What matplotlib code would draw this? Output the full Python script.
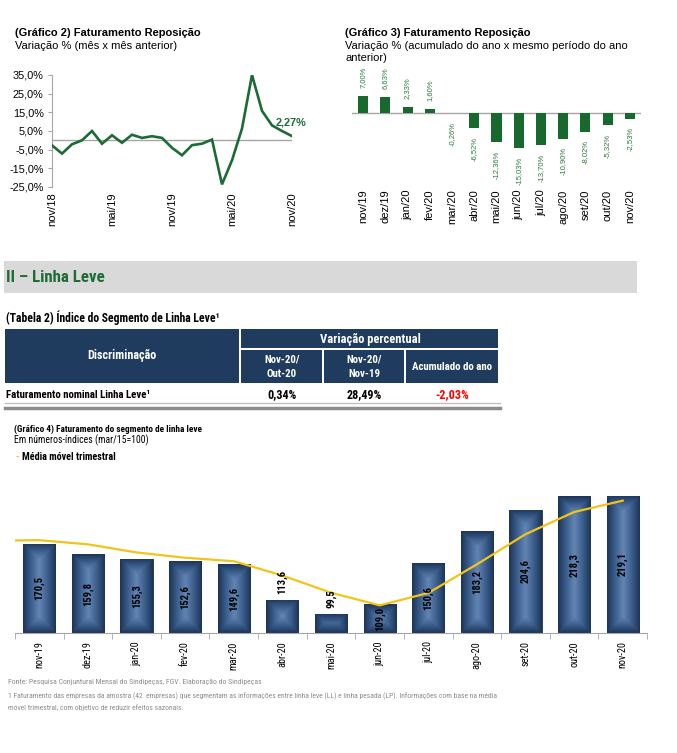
import numpy as np
import matplotlib
matplotlib.use('Agg')
import matplotlib.pyplot as plt
from matplotlib import font_manager
from matplotlib.patches import Rectangle
from matplotlib.colors import LinearSegmentedColormap

plt.rcParams['font.family'] = ['Liberation Sans', 'DejaVu Sans']

# a condensed face is used for the small notes if one is installed,
# otherwise plain Liberation Sans at a smaller size
_names = {f.name for f in font_manager.fontManager.ttflist}
NARROW = ['Liberation Sans', 'DejaVu Sans']
NSCALE = 1.0
for cand in ['Liberation Sans Narrow', 'Roboto Condensed', 'Open Sans Condensed']:
    if cand in _names:
        NARROW = [cand, 'Liberation Sans', 'DejaVu Sans']
        NSCALE = 1 / 0.82
        break


def ns(size):
    return size * NSCALE


# ---- data ----
# Grafico 2: variacao mes x mes anterior, nov/18 .. nov/20
rep_mm = [-2.7, -7.1, -2.1, 0.0, 5.0, -1.8, 2.7, -1.3, 3.0, 1.3, 2.2, 1.3,
          -4.0, -8.0, -2.6, -1.8, 0.4, -23.6, -10.7, 6.3, 35.0, 15.8, 8.0, 5.0, 2.27]
rep_mm_ticks = ['nov/18', 'mai/19', 'nov/19', 'mai/20', 'nov/20']

# Grafico 3: acumulado do ano
months3 = ['nov/19', 'dez/19', 'jan/20', 'fev/20', 'mar/20', 'abr/20', 'mai/20',
           'jun/20', 'jul/20', 'ago/20', 'set/20', 'out/20', 'nov/20']
rep_acum = [7.00, 6.63, 2.33, 1.60, -0.26, -6.52, -12.36, -15.03, -13.70,
            -10.90, -8.02, -5.32, -2.53]

# Tabela 2
tab_cols = ['Nov-20/\nOut-20', 'Nov-20/\nNov-19', 'Acumulado do ano']
tab_row = 'Faturamento nominal Linha Leve¹'
tab_vals = [0.34, 28.49, -2.03]

# Grafico 4: indice linha leve
months4 = ['nov-19', 'dez-19', 'jan-20', 'fev-20', 'mar-20', 'abr-20', 'mai-20',
           'jun-20', 'jul-20', 'ago-20', 'set-20', 'out-20', 'nov-20']
leve = [170.5, 159.8, 155.3, 152.6, 149.6, 113.6, 99.5, 109.0, 150.6,
        183.2, 204.6, 218.3, 219.1]
# media movel trimestral, starts one month earlier (out-19)
leve_mm = [173.5, 174.0, 169.8, 161.6, 156.2, 152.7, 138.2, 120.8, 108.0,
           120.5, 149.5, 180.0, 202.5, 214.0]
labels_above = ['abr-20', 'mai-20']

GREEN = '#1b6b34'
NAVY = '#1f3b5e'
GOLD = '#f2c419'
W, H = 677, 753

fig = plt.figure(figsize=(W / 100, H / 100), dpi=100)


def fig_box(x0, y0, x1, y1, color):
    fig.patches.append(Rectangle((x0 / W, 1 - y1 / H), (x1 - x0) / W, (y1 - y0) / H,
                                 transform=fig.transFigure, color=color, lw=0))


def fig_txt(x, y, s, **kw):
    fig.text(x / W, 1 - y / H, s, **kw)


def fig_line(x0, x1, y, color, lw):
    fig.add_artist(plt.Line2D([x0 / W, x1 / W], [1 - y / H, 1 - y / H],
                              transform=fig.transFigure, color=color, lw=lw))


def pct(v, nd):
    return f'{v:.{nd}f}%'.replace('.', ',')


# ---- Grafico 2 ----
fig_txt(15, 33, '(Gráfico 2) Faturamento Reposição', fontsize=8, weight='bold', va='center')
fig_txt(15, 46, 'Variação % (mês x mês anterior)', fontsize=8, va='center')

ax2 = fig.add_axes([52 / W, 1 - 187 / H, 240 / W, 112 / H])
x2 = np.arange(len(rep_mm))
ax2.plot(x2, rep_mm, color=GREEN, lw=1.9, zorder=3, solid_joinstyle='miter')
ax2.axhline(0, color='#a6a6a6', lw=1, zorder=2)
ax2.set_xlim(0, len(rep_mm) - 1)
ax2.set_ylim(-25, 35)
yt = np.arange(-25, 36, 10)
ax2.set_yticks(yt)
ax2.set_yticklabels([pct(v, 1) for v in yt], fontsize=7.8)
ax2.set_xticks(np.arange(0, len(rep_mm), 6))
ax2.set_xticklabels(rep_mm_ticks, rotation=90, fontsize=8, va='top')
for s in ['top', 'right', 'bottom']:
    ax2.spines[s].set_visible(False)
ax2.spines['left'].set_color('#a6a6a6')
ax2.tick_params(axis='y', length=3, color='#a6a6a6', pad=3)
ax2.tick_params(axis='x', length=0, pad=4)
ax2.annotate(pct(rep_mm[-1], 2), (x2[-1], rep_mm[-1]), xytext=(-1, 6),
             textcoords='offset points', ha='center', va='bottom',
             fontsize=7.8, weight='bold', color=GREEN)

# ---- Grafico 3 ----
fig_txt(345, 33, '(Gráfico 3) Faturamento Reposição', fontsize=8, weight='bold', va='center')
fig_txt(345, 46, 'Variação % (acumulado do ano x mesmo período do ano', fontsize=8, va='center')
fig_txt(345, 58, 'anterior)', fontsize=8, va='center')

ax3 = fig.add_axes([352 / W, 1 - 184 / H, 289 / W, 114 / H])
x3 = np.arange(len(months3))
ax3.bar(x3, rep_acum, width=0.45, color='#18692e', zorder=3)
ax3.axhline(0, color='#a6a6a6', lw=1, zorder=2)
ax3.set_xlim(-0.5, len(months3) - 0.5)
ax3.set_ylim(-30, 18)
for xi, v in zip(x3, rep_acum):
    ax3.annotate(pct(v, 2), (xi, v), xytext=(0, 6 if v > 0 else -6),
                 textcoords='offset points', ha='center',
                 va='bottom' if v > 0 else 'top', rotation=90,
                 fontsize=5.5, color='#2c7a40')
ax3.set_xticks(x3)
ax3.set_xticklabels(months3, rotation=90, fontsize=8, va='top')
ax3.set_yticks([])
for s in ax3.spines.values():
    s.set_visible(False)
ax3.tick_params(axis='x', length=0, pad=4)

# ---- secao II ----
fig_box(4, 261, 637, 293, '#d9d9d9')
fig_txt(6, 277, 'II – Linha Leve', fontsize=ns(10), weight='bold', color='#1d6b35',
        va='center', family=NARROW)

# ---- Tabela 2 ----
fig_txt(6, 318, '(Tabela 2) Índice do Segmento de Linha Leve¹', fontsize=ns(6.9),
        weight='bold', va='center', family=NARROW)
fig_box(5, 329, 239, 383, NAVY)
fig_box(241, 329, 498, 348, NAVY)
fig_box(241, 350, 322, 383, NAVY)
fig_box(324, 350, 404, 383, NAVY)
fig_box(406, 350, 498, 383, NAVY)
fig_txt(122, 356, 'Discriminação', fontsize=ns(7.2), weight='bold', color='white',
        ha='center', va='center', family=NARROW)
fig_txt(370, 339, 'Variação percentual', fontsize=ns(7.4), weight='bold', color='white',
        ha='center', va='center', family=NARROW)
col_x = [282, 364, 452]
for cx, lab in zip(col_x, tab_cols):
    fig_txt(cx, 367, lab, fontsize=ns(6.4), weight='bold', color='white', ha='center',
            va='center', linespacing=1.6, family=NARROW)
fig_txt(6, 395, tab_row, fontsize=ns(6.4), weight='bold', va='center', family=NARROW)
for cx, v in zip(col_x, tab_vals):
    fig_txt(cx, 395, pct(v, 2), fontsize=ns(7.2), weight='bold', ha='center',
            va='center', color='#ff0000' if v < 0 else 'black', family=NARROW)
fig_line(5, 500, 403, '#bfbfbf', 1)
fig_line(5, 500, 408, '#8c8c8c', 2.5)

# ---- Grafico 4 ----
fig_txt(14, 429, '(Gráfico 4) Faturamento do segmento de linha leve', fontsize=ns(5.5),
        weight='bold', va='center', family=NARROW)
fig_txt(14, 440, 'Em números-índices (mar/15=100)', fontsize=ns(5.8), va='center',
        family=NARROW)
fig_txt(16, 457, '-', fontsize=8, weight='bold', va='center', color=GOLD)
fig_txt(22, 457, 'Média móvel trimestral', fontsize=ns(6), weight='bold', va='center',
        family=NARROW)

ax4 = fig.add_axes([15 / W, 1 - 633 / H, 632 / W, 158 / H])
x4 = np.arange(len(months4))
base = 80
ax4.set_xlim(-0.5, len(months4) - 0.5)
ax4.set_ylim(base, 240)
bars = ax4.bar(x4, np.array(leve) - base, bottom=base, width=0.66, color=NAVY,
               edgecolor='#1a3050', lw=0.6, zorder=2)

cmap = LinearSegmentedColormap.from_list('bar', ['#1c3557', '#3c5f8e', '#6385b3'])
fig.canvas.draw()
ppx = ax4.transData.transform([(0, 0), (1, 1)])
upx, vpx = ppx[1] - ppx[0]
for b in bars:
    bx, by = b.get_x(), b.get_y()
    bw, bh = b.get_width(), b.get_height()
    wpx, hpx = bw * upx, bh * vpx
    u = np.linspace(0, 1, 60)
    v = np.linspace(0, 1, 300)
    du = np.minimum(u, 1 - u) * wpx
    dv = np.minimum(v, 1 - v) * hpx
    d = np.minimum(du[None, :], dv[:, None]) / (wpx / 2)
    im = ax4.imshow(d, extent=(bx, bx + bw, by, by + bh), origin='lower',
                    aspect='auto', cmap=cmap, vmin=0, vmax=1, zorder=2.5,
                    interpolation='bilinear')
    im.set_clip_path(b)

ax4.plot(np.arange(-1, len(months4)), leve_mm, color=GOLD, lw=1.6, zorder=4)

for xi, v, m in zip(x4, leve, months4):
    s = f'{v:.1f}'.replace('.', ',')
    if m in labels_above:
        ax4.annotate(s, (xi, v), xytext=(0, 4), textcoords='offset points',
                     ha='center', va='bottom', rotation=90, fontsize=ns(6.2),
                     weight='bold', family=NARROW, zorder=5)
    else:
        ax4.text(xi, base + (v - base) / 2, s, ha='center', va='center', rotation=90,
                 fontsize=ns(6.2), weight='bold', family=NARROW, zorder=5)

ax4.set_xticks(x4)
ax4.set_xticklabels(months4, rotation=90, fontsize=ns(6.0), va='top', family=NARROW)
ax4.set_xticks(np.arange(-0.5, len(months4)), minor=True)
ax4.tick_params(axis='x', which='major', length=0, pad=6)
ax4.tick_params(axis='x', which='minor', length=4, color='#a6a6a6')
ax4.set_yticks([])
for s in ['top', 'right', 'left']:
    ax4.spines[s].set_visible(False)
ax4.spines['bottom'].set_color('#a6a6a6')

# ---- rodape ----
foot = '#8c8c8c'
fig_txt(8, 682, 'Fonte: Pesquisa Conjuntural Mensal do Sindipeças, FGV. Elaboração do Sindipeças',
        fontsize=ns(4.6), color=foot, va='center', family=NARROW)
fig_txt(8, 696, '1 Faturamento das empresas da amostra (42  empresas) que segmentam as informações '
        'entre linha leve (LL) e linha pesada (LP). Informações com base na média',
        fontsize=ns(4.5), color=foot, va='center', family=NARROW)
fig_txt(8, 708, 'móvel trimestral, com objetivo de reduzir efeitos sazonais.',
        fontsize=ns(4.5), color=foot, va='center', family=NARROW)

fig.savefig('out.png', dpi=100)
